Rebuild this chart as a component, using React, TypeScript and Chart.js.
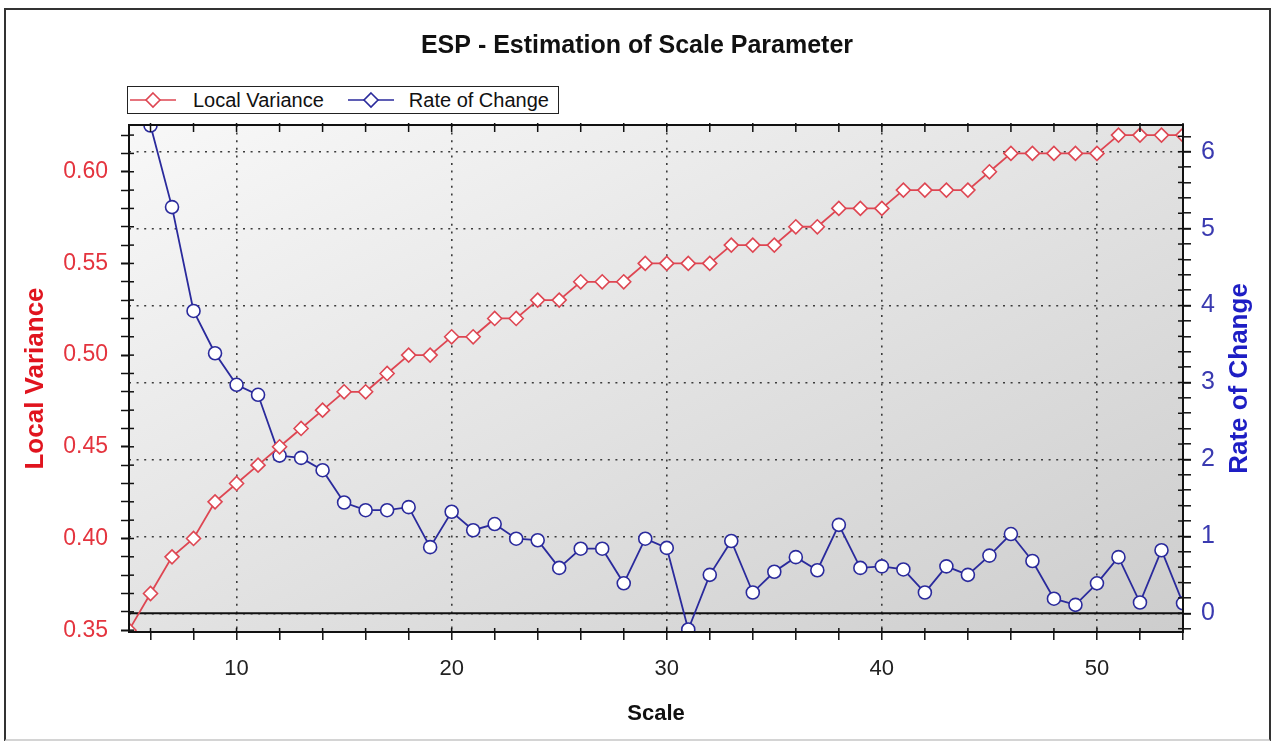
import React, { useEffect, useRef } from "react";
import { Chart, registerables } from "chart.js";

Chart.register(...registerables);

// ---- data ----
const scaleValues = [
  5, 6, 7, 8, 9, 10, 11, 12, 13, 14, 15, 16, 17, 18, 19, 20, 21, 22, 23, 24,
  25, 26, 27, 28, 29, 30, 31, 32, 33, 34, 35, 36, 37, 38, 39, 40, 41, 42, 43, 44,
  45, 46, 47, 48, 49, 50, 51, 52, 53, 54,
];

const localVariance = [
  0.35, 0.37, 0.39, 0.40, 0.42, 0.43, 0.44, 0.45, 0.46, 0.47,
  0.48, 0.48, 0.49, 0.50, 0.50, 0.51, 0.51, 0.52, 0.52, 0.53,
  0.53, 0.54, 0.54, 0.54, 0.55, 0.55, 0.55, 0.55, 0.56, 0.56,
  0.56, 0.57, 0.57, 0.58, 0.58, 0.58, 0.59, 0.59, 0.59, 0.59,
  0.60, 0.61, 0.61, 0.61, 0.61, 0.61, 0.62, 0.62, 0.62, 0.62,
];

const rateOfChange: (number | null)[] = [
  null, 6.34, 5.28, 3.93, 3.38, 2.97, 2.84, 2.05, 2.02, 1.86,
  1.44, 1.34, 1.34, 1.38, 0.86, 1.32, 1.08, 1.16, 0.97, 0.95,
  0.59, 0.84, 0.84, 0.39, 0.97, 0.85, -0.21, 0.50, 0.94, 0.27,
  0.54, 0.73, 0.56, 1.15, 0.59, 0.61, 0.57, 0.27, 0.61, 0.50,
  0.75, 1.03, 0.68, 0.19, 0.11, 0.39, 0.73, 0.14, 0.82, 0.13,
];

const xTickLabels = [10, 20, 30, 40, 50];
const leftTickLabels = [0.35, 0.4, 0.45, 0.5, 0.55, 0.6];
const rightTickLabels = [0, 1, 2, 3, 4, 5, 6];

const seriesNames = ["Local Variance", "Rate of Change"];
const seriesColors = ["#de4652", "#2a2a9c"];

const chartTitle = "ESP - Estimation of Scale Parameter";
const xTitle = "Scale";

// ---- styling ----
const FONT = "'Liberation Sans', Arial, Helvetica, sans-serif";
const GRID_COLOR = "#3c3c3c";
const TRANSPARENT = "rgba(0,0,0,0)";

const near = (v: number, list: number[]) =>
  list.find((l) => Math.abs(v - l) < 1e-6);

const plotDecor = {
  id: "plotDecor",
  beforeDraw(chart: any) {
    const { ctx, chartArea: a } = chart;
    const w = a.right - a.left;
    const h = a.bottom - a.top;
    const s = (2 * w * h) / (w * w + h * h);
    const g = ctx.createLinearGradient(a.left, a.top, a.left + h * s, a.top + w * s);
    g.addColorStop(0, "#f8f8f8");
    g.addColorStop(1, "#cdcdcd");
    ctx.save();
    ctx.fillStyle = g;
    ctx.fillRect(a.left, a.top, w, h);
    ctx.restore();
  },
  beforeDatasetsDraw(chart: any) {
    const { ctx, chartArea: a } = chart;
    const y0 = chart.scales.y1.getPixelForValue(0);
    ctx.save();
    ctx.strokeStyle = "#111";
    ctx.lineWidth = 2;
    ctx.beginPath();
    ctx.moveTo(a.left, y0);
    ctx.lineTo(a.right, y0);
    ctx.stroke();
    ctx.restore();
  },
  afterDatasetsDraw(chart: any) {
    const { ctx, chartArea: a } = chart;
    ctx.save();
    ctx.strokeStyle = "#111";
    ctx.lineWidth = 2;
    ctx.strokeRect(a.left, a.top, a.right - a.left, a.bottom - a.top);
    ctx.lineWidth = 1.5;
    // mirrored tick marks on the top edge, and inner halves of the axis ticks
    const xs = chart.scales.x;
    xs.ticks.forEach((t: any) => {
      const px = xs.getPixelForValue(t.value);
      ctx.beginPath();
      ctx.moveTo(px, a.top - 2);
      ctx.lineTo(px, a.top + 7);
      ctx.moveTo(px, a.bottom);
      ctx.lineTo(px, a.bottom - 4);
      ctx.stroke();
    });
    const yl = chart.scales.y;
    yl.ticks.forEach((t: any) => {
      const py = yl.getPixelForValue(t.value);
      ctx.beginPath();
      ctx.moveTo(a.left, py);
      ctx.lineTo(a.left + 5, py);
      ctx.stroke();
    });
    const yr = chart.scales.y1;
    yr.ticks.forEach((t: any) => {
      const py = yr.getPixelForValue(t.value);
      ctx.beginPath();
      ctx.moveTo(a.right, py);
      ctx.lineTo(a.right - 5, py);
      ctx.stroke();
    });
    ctx.restore();
  },
  afterDraw(chart: any) {
    const { ctx, chartArea: a } = chart;
    const s = chart.scales.y1;
    ctx.save();
    ctx.font = `bold 26px ${FONT}`;
    ctx.fillStyle = "#1e1ec4";
    ctx.textAlign = "center";
    ctx.textBaseline = "middle";
    ctx.translate(s.right - 34, (a.top + a.bottom) / 2);
    ctx.rotate(-Math.PI / 2);
    ctx.fillText(seriesNames[1], 0, 0);
    ctx.restore();
  },
};

function Diamond({ color }: { color: string }) {
  return (
    <svg width={46} height={18} style={{ display: "block" }}>
      <line x1={0} y1={9} x2={46} y2={9} stroke={color} strokeWidth={1.6} />
      <polygon
        points="23,2 30,9 23,16 16,9"
        fill="#fff"
        stroke={color}
        strokeWidth={1.6}
      />
    </svg>
  );
}

export default function App() {
  const ref = useRef<HTMLCanvasElement | null>(null);

  useEffect(() => {
    if (!ref.current) return;
    Chart.defaults.font.family = FONT;

    const lvPoints = scaleValues.map((x, i) => ({ x, y: localVariance[i] }));
    const rcPoints = scaleValues
      .map((x, i) => ({ x, y: rateOfChange[i] }))
      .filter((p) => p.y !== null);

    const chart = new Chart(ref.current, {
      type: "line",
      data: {
        datasets: [
          {
            label: seriesNames[0],
            data: lvPoints as any,
            yAxisID: "y",
            borderColor: seriesColors[0],
            borderWidth: 1.8,
            pointStyle: "rectRot",
            pointRadius: 7,
            pointBorderWidth: 1.6,
            pointBackgroundColor: "#ffffff",
            pointBorderColor: seriesColors[0],
            tension: 0,
          },
          {
            label: seriesNames[1],
            data: rcPoints as any,
            yAxisID: "y1",
            borderColor: seriesColors[1],
            borderWidth: 1.8,
            pointStyle: "circle",
            pointRadius: 6.5,
            pointBorderWidth: 1.6,
            pointBackgroundColor: "#ffffff",
            pointBorderColor: seriesColors[1],
            tension: 0,
          },
        ],
      },
      options: {
        responsive: false,
        animation: false,
        events: [],
        layout: { padding: 0 },
        plugins: {
          legend: { display: false },
          tooltip: { enabled: false },
          title: {
            display: true,
            text: chartTitle,
            color: "#111",
            font: { size: 25, weight: "bold", family: FONT },
            padding: { top: 31, bottom: 64 },
          },
        },
        scales: {
          x: {
            type: "linear",
            position: "bottom",
            min: 5,
            max: 54,
            afterFit: (s: any) => {
              s.height = 109;
            },
            ticks: {
              stepSize: 2,
              includeBounds: false,
              autoSkip: false,
              maxRotation: 0,
              color: "#222",
              padding: 16,
              font: { size: 22, family: FONT },
              callback: (v: any) => {
                const m = near(Number(v), xTickLabels);
                return m === undefined ? "" : String(m);
              },
            },
            grid: {
              color: (c: any) =>
                c.tick && near(c.tick.value, xTickLabels) !== undefined ? GRID_COLOR : TRANSPARENT,
              lineWidth: 1.6,
              tickLength: 8,
              tickColor: "#111",
              tickWidth: 1.5,
            },
            border: { display: true, color: "#111", width: 2, dash: [2, 5.6] },
            title: {
              display: true,
              text: xTitle,
              color: "#111",
              font: { size: 22, weight: "bold", family: FONT },
              padding: { top: 0, bottom: 14 },
            },
          },
          y: {
            type: "linear",
            position: "left",
            min: 0.349,
            max: 0.6255,
            afterFit: (s: any) => {
              s.width = 129;
            },
            ticks: {
              stepSize: 0.01,
              includeBounds: false,
              autoSkip: false,
              color: "#e4343e",
              padding: 13,
              font: { size: 23, family: FONT },
              callback: (v: any) => {
                const m = near(Number(v), leftTickLabels);
                return m === undefined ? "" : m.toFixed(2);
              },
            },
            grid: {
              drawOnChartArea: false,
              tickLength: 8,
              tickColor: "#111",
              tickWidth: (c: any) =>
                c.tick && near(c.tick.value, leftTickLabels) !== undefined ? 2 : 1.5,
            },
            border: { display: true, color: "#111", width: 2 },
            title: {
              display: true,
              text: seriesNames[0],
              color: "#e0141e",
              font: { size: 26, weight: "bold", family: FONT },
              padding: { top: 20, bottom: 0 },
            },
          },
          y1: {
            type: "linear",
            position: "right",
            min: -0.243,
            max: 6.347,
            afterFit: (s: any) => {
              s.width = 91;
            },
            ticks: {
              stepSize: 0.2,
              includeBounds: false,
              autoSkip: false,
              color: "#3a3ab0",
              padding: 10,
              font: { size: 25, family: FONT },
              callback: (v: any) => {
                const m = near(Number(v), rightTickLabels);
                return m === undefined ? "" : String(m);
              },
            },
            grid: {
              drawOnChartArea: true,
              color: (c: any) =>
                c.tick && near(c.tick.value, rightTickLabels) !== undefined ? GRID_COLOR : TRANSPARENT,
              lineWidth: 1.6,
              tickLength: 8,
              tickColor: "#111",
              tickWidth: (c: any) =>
                c.tick && near(c.tick.value, rightTickLabels) !== undefined ? 2 : 1.5,
            },
            border: { display: true, color: "#111", width: 2, dash: [2, 5.6] },
            title: { display: false },
          },
        },
      } as any,
      plugins: [plotDecor],
    });

    return () => chart.destroy();
  }, []);

  return (
    <div
      style={{
        position: "absolute",
        left: 0,
        top: 0,
        width: 1274,
        height: 741,
        background: "#ffffff",
        overflow: "hidden",
      }}
    >
      <div
        style={{
          position: "absolute",
          left: 4,
          top: 8,
          width: 1267,
          height: 734,
          boxSizing: "border-box",
          border: "2px solid #333",
          borderBottom: "3px solid #d4d4d4",
        }}
      />
      <canvas
        ref={ref}
        width={1274}
        height={741}
        style={{ position: "absolute", left: 0, top: 0, width: 1274, height: 741 }}
      />
      <div
        style={{
          position: "absolute",
          left: 127,
          top: 86,
          width: 432,
          height: 28,
          boxSizing: "border-box",
          border: "1.5px solid #222",
          background: "#fff",
          fontFamily: FONT,
          fontSize: 20,
          color: "#111",
          display: "flex",
          alignItems: "center",
          paddingLeft: 2,
          whiteSpace: "nowrap",
        }}
      >
        <Diamond color={seriesColors[0]} />
        <span style={{ marginLeft: 17 }}>{seriesNames[0]}</span>
        <span style={{ marginLeft: 24 }}>
          <Diamond color={seriesColors[1]} />
        </span>
        <span style={{ marginLeft: 15 }}>{seriesNames[1]}</span>
      </div>
    </div>
  );
}
